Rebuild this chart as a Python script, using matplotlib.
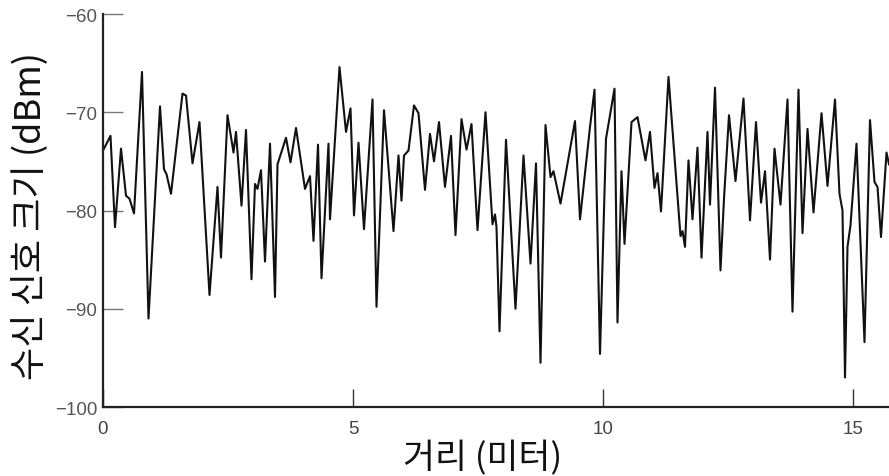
import matplotlib
matplotlib.use("Agg")
import matplotlib.pyplot as plt

# distance (m) and received signal strength (dBm)
distance_m = [
    0.00, 0.15, 0.24, 0.36, 0.46, 0.53, 0.62, 0.78, 0.91, 1.14, 1.22, 1.27, 1.36,
    1.59, 1.66, 1.79, 1.93, 2.13, 2.29, 2.36, 2.49, 2.61, 2.66, 2.77, 2.86, 2.97,
    3.04, 3.09, 3.16, 3.24, 3.34, 3.44, 3.49, 3.66, 3.75, 3.86, 4.04, 4.14, 4.21,
    4.30, 4.37, 4.51, 4.54, 4.73, 4.86, 4.95, 5.02, 5.11, 5.22, 5.39, 5.47, 5.62,
    5.81, 5.91, 5.97, 6.02, 6.11, 6.22, 6.31, 6.44, 6.54, 6.62, 6.72, 6.84, 6.96,
    7.05, 7.17, 7.27, 7.37, 7.49, 7.65, 7.79, 7.84, 7.87, 7.93, 8.06, 8.25, 8.41,
    8.55, 8.66, 8.75, 8.85, 8.95, 9.01, 9.15, 9.44, 9.54, 9.74, 9.83, 9.94, 10.06,
    10.23, 10.29, 10.37, 10.43, 10.57, 10.69, 10.85, 10.94, 11.03, 11.09, 11.16,
    11.31, 11.55, 11.59, 11.64, 11.71, 11.79, 11.89, 11.97, 12.09, 12.14, 12.24,
    12.35, 12.42, 12.52, 12.65, 12.81, 12.94, 13.06, 13.16, 13.24, 13.34, 13.43,
    13.55, 13.69, 13.79, 13.91, 13.99, 14.09, 14.21, 14.37, 14.49, 14.64, 14.73,
    14.79, 14.84, 14.89, 14.95, 15.07, 15.23, 15.34, 15.43, 15.49, 15.56, 15.67,
    15.72,
]
signal_dbm = [
    -73.9, -72.4, -81.7, -73.7, -78.5, -78.8, -80.3, -65.9, -91.0, -69.4, -75.8,
    -76.3, -78.3, -68.1, -68.3, -75.2, -71.0, -88.6, -77.6, -84.8, -70.3, -74.1,
    -72.0, -79.5, -71.8, -87.0, -77.3, -77.8, -75.9, -85.2, -73.2, -88.8, -75.3,
    -72.6, -75.1, -71.6, -77.8, -76.5, -83.1, -73.3, -86.9, -73.2, -80.9, -65.4,
    -72.0, -69.6, -80.5, -73.1, -81.9, -68.7, -89.8, -69.8, -82.1, -74.4, -79.0,
    -74.4, -73.9, -69.3, -70.1, -77.9, -72.2, -75.0, -71.0, -77.6, -72.4, -82.5,
    -70.7, -73.8, -71.2, -82.0, -70.0, -81.4, -80.4, -81.7, -92.3, -72.8, -90.0,
    -74.4, -85.4, -75.2, -95.5, -71.3, -76.6, -76.0, -79.3, -70.9, -80.9, -71.5,
    -67.7, -94.6, -72.7, -67.6, -91.4, -76.0, -83.4, -71.0, -70.5, -74.9, -72.0,
    -77.7, -76.2, -80.1, -66.4, -82.6, -82.1, -83.7, -74.9, -80.9, -73.6, -84.8,
    -72.0, -79.4, -67.5, -86.1, -78.8, -70.3, -77.0, -68.6, -81.0, -71.0, -79.2,
    -76.0, -85.0, -73.7, -79.4, -68.7, -90.3, -67.7, -82.3, -71.7, -80.2, -70.1,
    -77.5, -68.7, -78.3, -80.0, -97.0, -83.7, -81.5, -73.2, -93.4, -70.8, -77.1,
    -77.6, -82.7, -74.1, -75.3,
]
x_ticks = [0, 5, 10, 15]
y_ticks = [-100, -90, -80, -70, -60]
x_label = "거리 (미터)"
y_label = "수신 신호 크기 (dBm)"

W, H = 889, 477
fig = plt.figure(figsize=(W / 100, H / 100), dpi=100)
ax = fig.add_axes([103 / W, 1 - 408 / H, 1 - 103 / W, (408 - 15) / H])

ax.plot(distance_m, signal_dbm, color="#111111", lw=1.5,
        solid_joinstyle="round", clip_on=False)

ax.set_xlim(0, 15.72)
ax.set_ylim(-100, -60)
for s in ("top", "right"):
    ax.spines[s].set_visible(False)
for s in ("left", "bottom"):
    ax.spines[s].set_linewidth(1.6)
    ax.spines[s].set_color("#222222")

ax.set_xticks(x_ticks)
ax.set_yticks(y_ticks)
ax.tick_params(axis="y", direction="in", length=14.5, width=1.0,
               color="#777777", pad=4, labelsize=13.5, labelcolor="#555555")
ax.tick_params(axis="x", direction="in", length=13, width=1.0,
               color="#333333", pad=9, labelsize=13.5, labelcolor="#444444")
for lab in ax.get_xticklabels() + ax.get_yticklabels():
    lab.set_family("Liberation Sans")

kfont = ["Noto Sans CJK KR", "DejaVu Sans"]
fig.text(483 / W, 1 - 459 / H, x_label, ha="center", va="center",
         fontsize=25, family=kfont, color="#111111")
fig.text(30 / W, 1 - 216 / H, y_label, ha="center", va="center",
         rotation=90, fontsize=26, family=kfont, color="#111111")

fig.savefig("out.png", dpi=100)
